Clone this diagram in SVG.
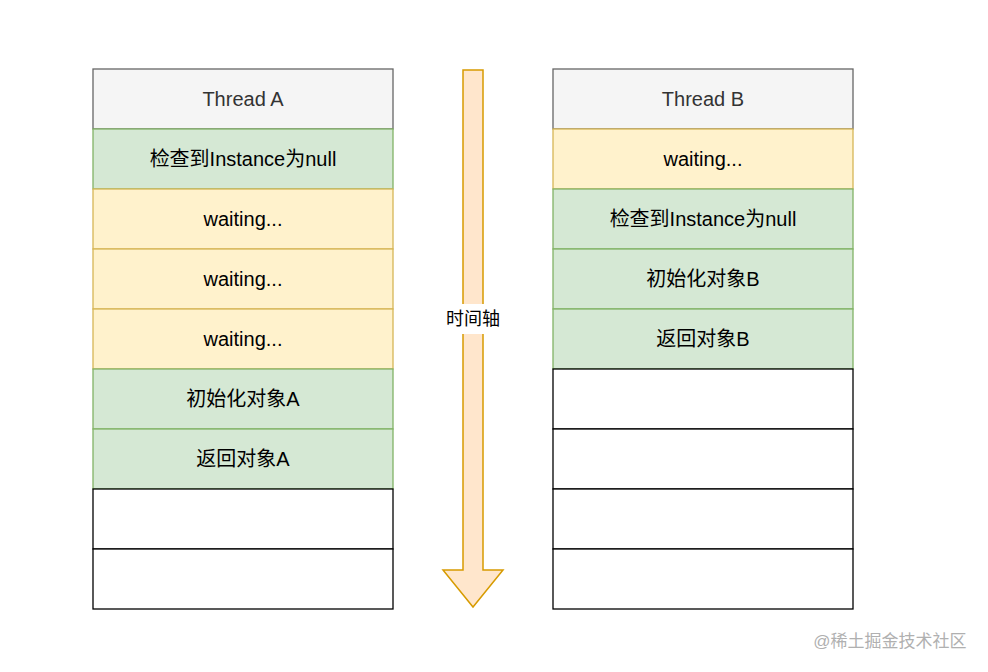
<svg xmlns="http://www.w3.org/2000/svg" width="988" height="672" viewBox="0 0 988 672">
<style>
text{font-family:"Liberation Sans","Noto Sans CJK SC",sans-serif;font-size:20px;text-anchor:middle;dominant-baseline:central;fill:#000}
.h{fill:#f5f5f5;stroke:#666666}
.g{fill:#d5e8d4;stroke:#82b366}
.y{fill:#fff2cc;stroke:#d6b656}
.w{fill:#ffffff;stroke:#000000}
.ht{fill:#333333}
rect{stroke-width:1.3}
</style>
<rect width="988" height="672" fill="#fff"/>
<g id="threadA">
<rect class="h" x="93" y="69" width="300" height="60"/><text class="ht" x="243" y="99">Thread A</text>
<rect class="g" x="93" y="129" width="300" height="60"/><text x="243" y="159">检查到Instance为null</text>
<rect class="y" x="93" y="189" width="300" height="60"/><text x="243" y="219">waiting...</text>
<rect class="y" x="93" y="249" width="300" height="60"/><text x="243" y="279">waiting...</text>
<rect class="y" x="93" y="309" width="300" height="60"/><text x="243" y="339">waiting...</text>
<rect class="g" x="93" y="369" width="300" height="60"/><text x="243" y="399">初始化对象A</text>
<rect class="g" x="93" y="429" width="300" height="60"/><text x="243" y="459">返回对象A</text>
<rect class="w" x="93" y="489" width="300" height="60"/>
<rect class="w" x="93" y="549" width="300" height="60"/>
</g>
<g id="threadB">
<rect class="h" x="553" y="69" width="300" height="60"/><text class="ht" x="703" y="99">Thread B</text>
<rect class="y" x="553" y="129" width="300" height="60"/><text x="703" y="159">waiting...</text>
<rect class="g" x="553" y="189" width="300" height="60"/><text x="703" y="219">检查到Instance为null</text>
<rect class="g" x="553" y="249" width="300" height="60"/><text x="703" y="279">初始化对象B</text>
<rect class="g" x="553" y="309" width="300" height="60"/><text x="703" y="339">返回对象B</text>
<rect class="w" x="553" y="369" width="300" height="60"/>
<rect class="w" x="553" y="429" width="300" height="60"/>
<rect class="w" x="553" y="489" width="300" height="60"/>
<rect class="w" x="553" y="549" width="300" height="60"/>
</g>
<g id="connectors">
<path d="M463,70 H483 V570 H503 L473,607 L443,570 H463 Z" fill="#ffe6cc" stroke="#d79b00" stroke-width="1.5"/>
<rect x="440" y="304" width="66" height="30" fill="#fff" stroke="none"/>
<text x="473" y="319" style="font-size:18px">时间轴</text>
</g>
<text x="890" y="641" style="font-size:17px;fill:#b0b0b0">@稀土掘金技术社区</text>
</svg>
